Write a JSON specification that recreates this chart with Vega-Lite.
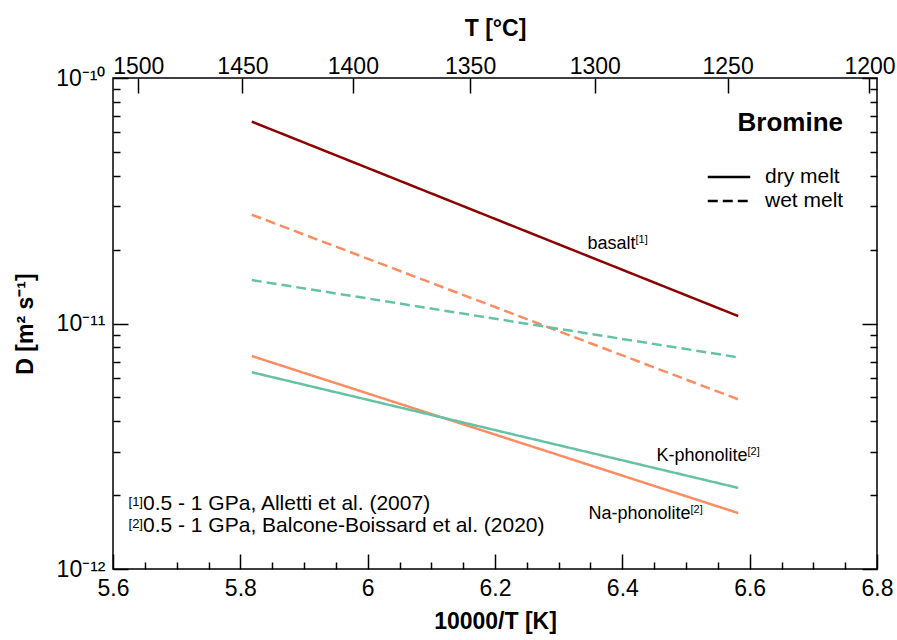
{
  "$schema": "https://vega.github.io/schema/vega-lite/v6.json",
  "width": 764,
  "height": 491,
  "autosize": {"type": "none"},
  "padding": {"left": 113, "top": 78, "right": 20, "bottom": 71},
  "background": "white",
  "config": {
    "font": "Liberation Sans",
    "view": {"stroke": "black", "strokeWidth": 1.5},
    "axis": {
      "domain": false,
      "grid": false,
      "tickColor": "black",
      "tickWidth": 1.5,
      "labelColor": "black",
      "titleColor": "black",
      "labelFont": "Liberation Sans",
      "titleFont": "Liberation Sans",
      "labelFontSize": 23,
      "titleFontSize": 23,
      "titleFontWeight": "bold",
      "labelOverlap": false,
      "labelFlush": false,
      "labelBound": false
    },
    "text": {"font": "Liberation Sans", "color": "black"}
  },
  "datasets": {
    "lines": [
      {"material": "basalt", "melt": "dry melt", "x": 5.818, "D": 6.64e-11},
      {"material": "basalt", "melt": "dry melt", "x": 6.582, "D": 1.072e-11},
      {"material": "Na-phonolite", "melt": "wet melt", "x": 5.818, "D": 2.774e-11},
      {"material": "Na-phonolite", "melt": "wet melt", "x": 6.582, "D": 4.91e-12},
      {"material": "K-phonolite", "melt": "wet melt", "x": 5.818, "D": 1.503e-11},
      {"material": "K-phonolite", "melt": "wet melt", "x": 6.582, "D": 7.28e-12},
      {"material": "Na-phonolite", "melt": "dry melt", "x": 5.818, "D": 7.37e-12},
      {"material": "Na-phonolite", "melt": "dry melt", "x": 6.582, "D": 1.69e-12},
      {"material": "K-phonolite", "melt": "dry melt", "x": 5.818, "D": 6.33e-12},
      {"material": "K-phonolite", "melt": "dry melt", "x": 6.582, "D": 2.14e-12}
    ],
    "labels": [
      {"name": "basalt", "ref": "[1]", "x": 6.4207, "D": 2.01e-11},
      {"name": "K-phonolite", "ref": "[2]", "x": 6.5966, "D": 2.76e-12},
      {"name": "Na-phonolite", "ref": "[2]", "x": 6.5071, "D": 1.6e-12}
    ],
    "notes": [
      {"ref": "[1]", "text": "0.5 - 1 GPa, Alletti et al. (2007)", "x": 5.6471, "D": 1.739e-12},
      {"ref": "[2]", "text": "0.5 - 1 GPa, Balcone-Boissard et al. (2020)", "x": 5.6471, "D": 1.419e-12}
    ]
  },
  "layer": [
    {
      "data": {"name": "lines"},
      "mark": {"type": "line", "strokeWidth": 2.5},
      "encoding": {
        "x": {
          "field": "x",
          "type": "quantitative",
          "scale": {"domain": [5.6, 6.8], "nice": false, "zero": false},
          "axis": {
            "orient": "bottom",
            "title": "10000/T [K]",
            "values": [5.6, 5.65, 5.7, 5.75, 5.8, 5.85, 5.9, 5.95, 6.0, 6.05, 6.1, 6.15, 6.2, 6.25, 6.3, 6.35, 6.4, 6.45, 6.5, 6.55, 6.6, 6.65, 6.7, 6.75, 6.8],
            "labelExpr": "abs(datum.value*5 - round(datum.value*5)) < 1e-6 ? format(datum.value, '.2~f') : ''",
            "tickSize": {"condition": {"test": "abs(datum.value*5 - round(datum.value*5)) < 1e-6", "value": -15}, "value": -7},
            "labelPadding": 23,
            "titlePadding": 2
          }
        },
        "y": {
          "field": "D",
          "type": "quantitative",
          "scale": {"type": "log", "domain": [1e-12, 1e-10], "nice": false},
          "axis": {
            "orient": "left",
            "title": "D [m² s⁻¹]",
            "values": [1e-12, 2e-12, 3e-12, 4e-12, 5e-12, 6e-12, 7e-12, 8e-12, 9e-12, 1e-11, 2e-11, 3e-11, 4e-11, 5e-11, 6e-11, 7e-11, 8e-11, 9e-11, 1e-10],
            "labelExpr": "datum.value == 1e-10 ? '10⁻¹⁰' : datum.value == 1e-11 ? '10⁻¹¹' : datum.value == 1e-12 ? '10⁻¹²' : ''",
            "tickSize": {"condition": {"test": "datum.value == 1e-10 || datum.value == 1e-11 || datum.value == 1e-12", "value": -15}, "value": -7},
            "labelPadding": 23,
            "titlePadding": 18
          }
        },
        "color": {
          "field": "material",
          "type": "nominal",
          "scale": {"domain": ["basalt", "Na-phonolite", "K-phonolite"], "range": ["#8B0000", "#FC8D62", "#66C2A5"]},
          "legend": null
        },
        "strokeDash": {
          "field": "melt",
          "type": "nominal",
          "scale": {"domain": ["dry melt", "wet melt"], "range": [[1, 0], [10, 5]]},
          "legend": {
            "orient": "none",
            "legendX": 602,
            "legendY": 32,
            "title": "Bromine",
            "titleFontSize": 26,
            "titleFontWeight": "bold",
            "titleFont": "Liberation Sans",
            "titleColor": "black",
            "titleAnchor": "end",
            "titlePadding": 27,
            "labelFont": "Liberation Sans",
            "labelFontSize": 21,
            "labelColor": "black",
            "labelOffset": 22,
            "symbolType": "M-1.7,0H1.7",
            "symbolSize": 625,
            "symbolStrokeWidth": 2.5,
            "symbolStrokeColor": "black",
            "symbolFillColor": "transparent",
            "rowPadding": -2
          }
        }
      }
    },
    {
      "data": {"name": "labels"},
      "mark": {"type": "text", "align": "right", "baseline": "alphabetic", "fontSize": 18},
      "encoding": {
        "x": {
          "field": "x",
          "type": "quantitative",
          "scale": {"domain": [5.6, 6.8], "nice": false, "zero": false},
          "axis": {
            "orient": "top",
            "title": "T [°C]",
            "values": [5.63968, 5.80332, 5.97675, 6.16086, 6.35668, 6.56534, 6.78817],
            "labelExpr": "format(10000/datum.value - 273.15, '.0f')",
            "tickSize": -15,
            "labelPadding": 15,
            "titlePadding": 15
          }
        },
        "y": {
          "field": "D",
          "type": "quantitative",
          "scale": {"type": "log", "domain": [1e-12, 1e-10], "nice": false},
          "axis": {
            "orient": "right",
            "title": null,
            "labels": false,
            "values": [1e-12, 2e-12, 3e-12, 4e-12, 5e-12, 6e-12, 7e-12, 8e-12, 9e-12, 1e-11, 2e-11, 3e-11, 4e-11, 5e-11, 6e-11, 7e-11, 8e-11, 9e-11, 1e-10],
            "tickSize": {"condition": {"test": "datum.value == 1e-10 || datum.value == 1e-11 || datum.value == 1e-12", "value": -15}, "value": -7}
          }
        },
        "text": {"field": "name"}
      }
    },
    {
      "data": {"name": "labels"},
      "mark": {"type": "text", "align": "left", "baseline": "alphabetic", "fontSize": 11, "dy": -6},
      "encoding": {
        "x": {"field": "x", "type": "quantitative", "scale": {"domain": [5.6, 6.8], "nice": false, "zero": false}, "axis": null},
        "y": {"field": "D", "type": "quantitative", "scale": {"type": "log", "domain": [1e-12, 1e-10], "nice": false}, "axis": null},
        "text": {"field": "ref"}
      }
    },
    {
      "data": {"name": "notes"},
      "mark": {"type": "text", "align": "left", "baseline": "alphabetic", "fontSize": 21},
      "encoding": {
        "x": {"field": "x", "type": "quantitative", "scale": {"domain": [5.6, 6.8], "nice": false, "zero": false}, "axis": null},
        "y": {"field": "D", "type": "quantitative", "scale": {"type": "log", "domain": [1e-12, 1e-10], "nice": false}, "axis": null},
        "text": {"field": "text"}
      }
    },
    {
      "data": {"name": "notes"},
      "mark": {"type": "text", "align": "right", "baseline": "alphabetic", "fontSize": 13, "dy": -4},
      "encoding": {
        "x": {"field": "x", "type": "quantitative", "scale": {"domain": [5.6, 6.8], "nice": false, "zero": false}, "axis": null},
        "y": {"field": "D", "type": "quantitative", "scale": {"type": "log", "domain": [1e-12, 1e-10], "nice": false}, "axis": null},
        "text": {"field": "ref"}
      }
    }
  ],
  "resolve": {"axis": {"x": "independent", "y": "independent"}}
}
